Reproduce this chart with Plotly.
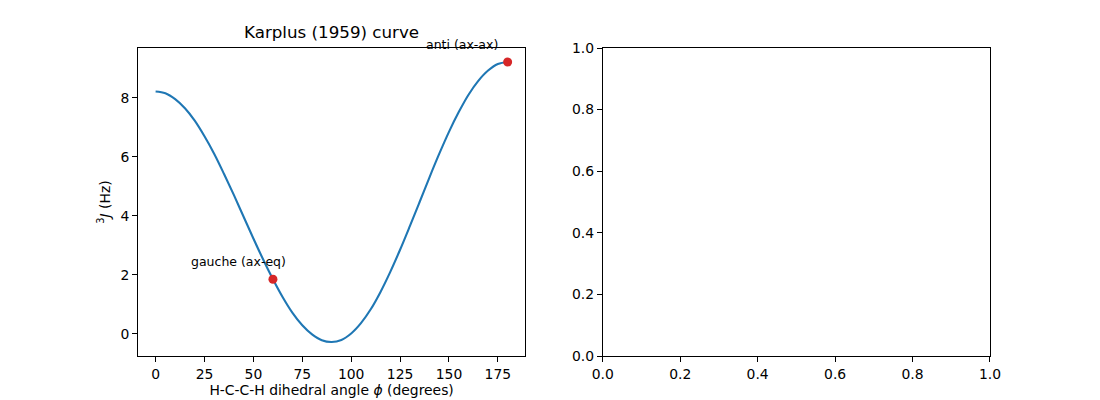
"""Karplus (1959) vicinal coupling curve, redrawn with plotly."""
import plotly.graph_objects as go

# dihedral angle (degrees) and 3J (Hz)
ANGLE = [0, 5, 10, 15, 20, 25, 30, 35, 40, 45, 50, 55, 60, 65, 70, 75, 80, 85, 90,
         95, 100, 105, 110, 115, 120, 125, 130, 135, 140, 145, 150, 155, 160, 165,
         170, 175, 180]
J_HZ = [8.22, 8.16, 7.96, 7.65, 7.23, 6.70, 6.10, 5.42, 4.71, 3.97, 3.23, 2.52,
        1.85, 1.24, 0.71, 0.29, -0.02, -0.22, -0.28, -0.21, 0.01, 0.36, 0.83, 1.42,
        2.10, 2.85, 3.65, 4.47, 5.30, 6.10, 6.85, 7.52, 8.11, 8.58, 8.93, 9.15, 9.22]

# highlighted conformers
MARK_LABELS = ["gauche (ax-eq)", "anti (ax-ax)"]
MARK_ANGLE = [60, 180]
MARK_J = [1.85, 9.22]

FONT = "DejaVu Sans"
BLUE = "#1f77b4"
RED = "#d62728"

fig = go.Figure()
fig.add_trace(go.Scatter(
    x=ANGLE, y=J_HZ, mode="lines", line=dict(color=BLUE, width=2.1, shape="spline"),
    showlegend=False, xaxis="x", yaxis="y",
))
fig.add_trace(go.Scatter(
    x=MARK_ANGLE, y=MARK_J, mode="markers", marker=dict(color=RED, size=9),
    showlegend=False, xaxis="x", yaxis="y",
))
# the right-hand panel is empty; an invisible trace keeps its axes on the page
fig.add_trace(go.Scatter(
    x=[None], y=[None], mode="markers", showlegend=False, hoverinfo="skip",
    xaxis="x2", yaxis="y2",
))

for label, ax, ay in zip(MARK_LABELS, MARK_ANGLE, MARK_J):
    fig.add_annotation(
        x=ax, y=ay, xref="x", yref="y", text=label, showarrow=False,
        xanchor="left", yanchor="middle", xshift=-84, yshift=18,
        font=dict(family=FONT, size=12.5, color="black"),
    )

fig.add_annotation(
    x=0.5, y=1, xref="x domain", yref="y domain", text="Karplus (1959) curve",
    showarrow=False, xanchor="center", yanchor="bottom", yshift=4,
    font=dict(family=FONT, size=16.7, color="black"),
)

axis_style = dict(
    showline=True, linecolor="black", linewidth=1, mirror=True,
    ticks="outside", ticklen=5, tickcolor="black", tickwidth=1,
    showgrid=False, zeroline=False, automargin=False,
    tickfont=dict(family=FONT, size=13.9, color="black"),
)

fig.update_layout(
    width=1100, height=400,
    margin=dict(l=137.5, r=110, t=48, b=44),
    plot_bgcolor="white", paper_bgcolor="white",
    xaxis=dict(
        domain=[0, 0.4545], range=[-9, 189], tickvals=list(range(0, 180, 25)),
        title=dict(text="H-C-C-H dihedral angle <i>ϕ</i> (degrees)", standoff=4,
                   font=dict(family=FONT, size=13.9, color="black")),
        anchor="y", **axis_style,
    ),
    yaxis=dict(
        domain=[0, 1], range=[-0.755, 9.695], tickvals=[0, 2, 4, 6, 8],
        title=dict(text="<sup>3</sup><i>J</i> (Hz)", standoff=6,
                   font=dict(family=FONT, size=13.9, color="black")),
        anchor="x", **axis_style,
    ),
    xaxis2=dict(
        domain=[0.5455, 1], range=[0, 1], tickvals=[0, 0.2, 0.4, 0.6, 0.8, 1.0],
        tickformat=".1f", anchor="y2", **axis_style,
    ),
    yaxis2=dict(
        domain=[0, 1], range=[0, 1], tickvals=[0, 0.2, 0.4, 0.6, 0.8, 1.0],
        tickformat=".1f", anchor="x2", **axis_style,
    ),
)

# drop the browser's default body margin so the figure sits at the page corner
fig.write_html(
    "out.html",
    config={"displayModeBar": False},
    post_script="document.body.style.margin = '0';",
)
